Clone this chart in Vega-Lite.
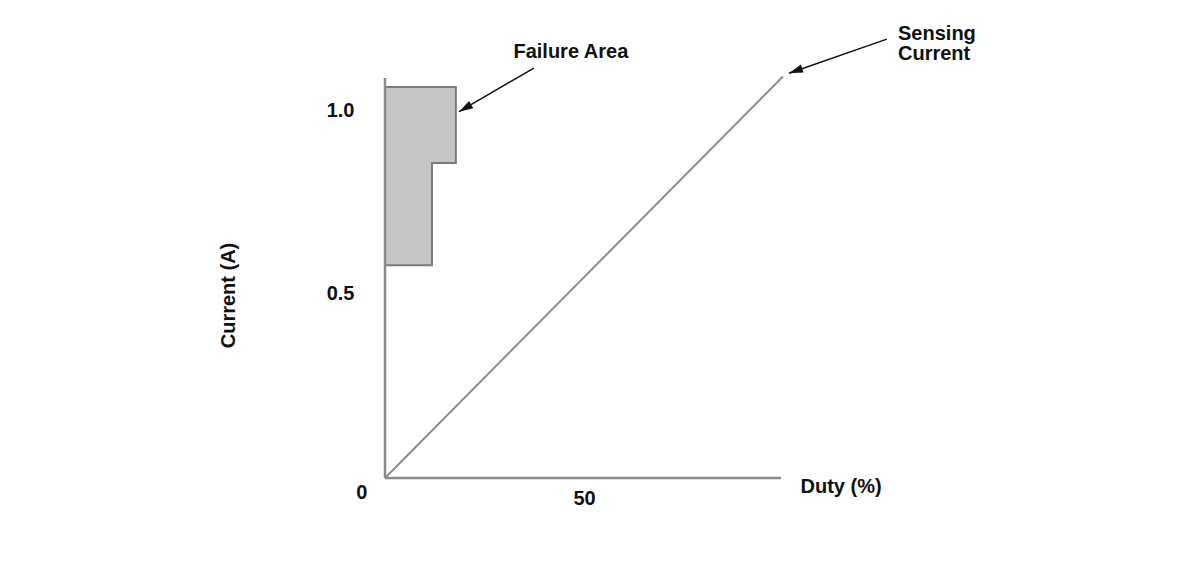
{
  "$schema": "https://vega.github.io/schema/vega-lite/v6.json",
  "width": 398,
  "height": 403,
  "padding": {"left": 385, "top": 75, "right": 417, "bottom": 105},
  "autosize": {"type": "none"},
  "background": "white",
  "config": {"view": {"stroke": null}, "font": "Liberation Sans"},
  "datasets": {
    "axisLines": [
      {"x": 0, "y": 0, "x2": 0, "y2": 1.092},
      {"x": 0, "y": 0, "x2": 99.5, "y2": 0}
    ],
    "sensing": [
      {"x": 0, "y": 0},
      {"x": 100, "y": 1.096}
    ],
    "failureFill": [
      {"x": 0, "x2": 17.8, "y": 0.86, "y2": 1.067},
      {"x": 0, "x2": 11.8, "y": 0.581, "y2": 0.86}
    ],
    "failureOutline": [
      {"i": 1, "x": 0, "y": 1.067},
      {"i": 2, "x": 17.8, "y": 1.067},
      {"i": 3, "x": 17.8, "y": 0.86},
      {"i": 4, "x": 11.8, "y": 0.86},
      {"i": 5, "x": 11.8, "y": 0.581},
      {"i": 6, "x": 0, "y": 0.581}
    ],
    "arrows": [
      {"name": "failure", "x": 37.4, "y": 1.119, "x2": 18.6, "y2": 1.0},
      {"name": "sensing", "x": 126.1, "y": 1.198, "x2": 101.5, "y2": 1.105}
    ],
    "centerLabels": [
      {"text": "Failure Area", "x": 46.7, "y": 1.162},
      {"text": "0", "x": -5.8, "y": -0.041}
    ],
    "leftLabels": [
      {"text": "Sensing", "x": 128.9, "y": 1.212},
      {"text": "Current", "x": 128.9, "y": 1.158}
    ]
  },
  "encoding": {
    "x": {
      "field": "x",
      "type": "quantitative",
      "scale": {"domain": [0, 100], "nice": false, "zero": false},
      "axis": {
        "values": [50],
        "ticks": false,
        "domain": false,
        "grid": false,
        "labelFontSize": 20,
        "labelFontWeight": "bold",
        "labelColor": "#111111",
        "labelPadding": 10,
        "title": "Duty (%)",
        "titleX": 415,
        "titleY": 8,
        "titleAlign": "left",
        "titleBaseline": "middle",
        "titleFontSize": 20,
        "titleFontWeight": "bold",
        "titleColor": "#111111"
      }
    },
    "y": {
      "field": "y",
      "type": "quantitative",
      "scale": {"domain": [0, 1.1], "nice": false, "zero": false},
      "axis": {
        "values": [0.5, 1],
        "format": ".1f",
        "ticks": false,
        "domain": false,
        "grid": false,
        "labelFontSize": 20,
        "labelFontWeight": "bold",
        "labelColor": "#111111",
        "labelPadding": 31,
        "labelOffset": -1,
        "title": "Current (A)",
        "titleX": -157,
        "titleY": 220,
        "titleAngle": 270,
        "titleAlign": "center",
        "titleBaseline": "middle",
        "titleFontSize": 20,
        "titleFontWeight": "bold",
        "titleColor": "#111111"
      }
    }
  },
  "layer": [
    {
      "data": {"name": "failureFill"},
      "mark": {"type": "rect", "fill": "#c4c5c4", "strokeWidth": 0},
      "encoding": {
        "x2": {"field": "x2"},
        "y2": {"field": "y2"}
      }
    },
    {
      "data": {"name": "failureOutline"},
      "mark": {"type": "line", "color": "#7b7b7b", "strokeWidth": 2},
      "encoding": {"order": {"field": "i", "type": "quantitative"}}
    },
    {
      "data": {"name": "axisLines"},
      "mark": {"type": "rule", "color": "#8a8a8a", "strokeWidth": 2.5},
      "encoding": {
        "x2": {"field": "x2"},
        "y2": {"field": "y2"}
      }
    },
    {
      "data": {"name": "sensing"},
      "mark": {"type": "line", "color": "#8c8c8c", "strokeWidth": 2},
      "encoding": {}
    },
    {
      "data": {"name": "arrows"},
      "mark": {"type": "rule", "color": "#111111", "strokeWidth": 1.5},
      "encoding": {
        "x2": {"field": "x2"},
        "y2": {"field": "y2"}
      }
    },
    {
      "data": {"name": "arrows"},
      "transform": [{"filter": "datum.name === 'failure'"}],
      "mark": {"type": "point", "shape": "M0,0L-0.3,1L0.3,1Z", "filled": true, "color": "#111111", "opacity": 1, "size": 784, "angle": 240.2},
      "encoding": {
        "x": {"field": "x2", "type": "quantitative"},
        "y": {"field": "y2", "type": "quantitative"}
      }
    },
    {
      "data": {"name": "arrows"},
      "transform": [{"filter": "datum.name === 'sensing'"}],
      "mark": {"type": "point", "shape": "M0,0L-0.3,1L0.3,1Z", "filled": true, "color": "#111111", "opacity": 1, "size": 784, "angle": 250.9},
      "encoding": {
        "x": {"field": "x2", "type": "quantitative"},
        "y": {"field": "y2", "type": "quantitative"}
      }
    },
    {
      "data": {"name": "centerLabels"},
      "mark": {"type": "text", "align": "center", "baseline": "middle", "fontSize": 20, "fontWeight": "bold", "color": "#111111"},
      "encoding": {"text": {"field": "text"}}
    },
    {
      "data": {"name": "leftLabels"},
      "mark": {"type": "text", "align": "left", "baseline": "middle", "fontSize": 20, "fontWeight": "bold", "color": "#111111"},
      "encoding": {"text": {"field": "text"}}
    }
  ]
}
